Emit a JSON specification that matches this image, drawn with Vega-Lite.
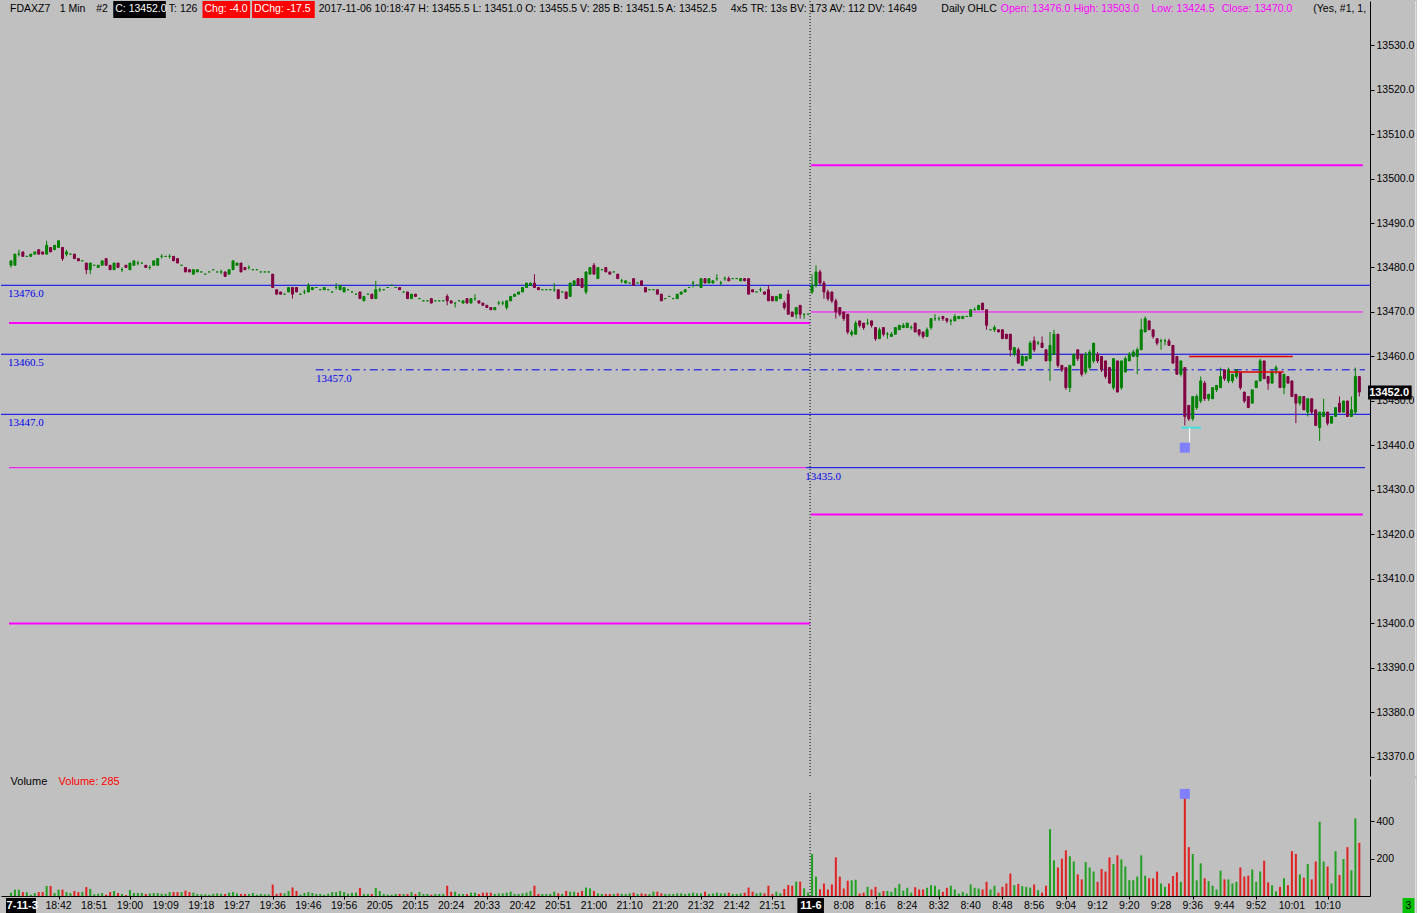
{
"$schema":"https://vega.github.io/schema/vega-lite/v6.json",
"padding":0,
"background":"#c0c0c0",
"spacing":3,
"bounds":"flush",
"config":{"view":{"stroke":null},"font":"Liberation Sans","axis":{"grid":false}},
"datasets":{"bars":[
{"i":0,"o":13480.5,"h":13481.5,"l":13480,"c":13481.5,"v":18},
{"i":1,"o":13480.5,"h":13483,"l":13480.5,"c":13483,"v":34},
{"i":2,"o":13483,"h":13484,"l":13482.5,"c":13483,"v":34},
{"i":3,"o":13483.5,"h":13483.5,"l":13482.5,"c":13482.5,"v":21},
{"i":4,"o":13482.5,"h":13482.5,"l":13482.5,"c":13482.5,"v":21},
{"i":5,"o":13482.5,"h":13483,"l":13482.5,"c":13483,"v":7},
{"i":6,"o":13483,"h":13483.5,"l":13483,"c":13483.5,"v":16},
{"i":7,"o":13484,"h":13484,"l":13483,"c":13483,"v":21},
{"i":8,"o":13483.5,"h":13483.5,"l":13483,"c":13483,"v":21},
{"i":9,"o":13483,"h":13486,"l":13483,"c":13485,"v":54},
{"i":10,"o":13484.5,"h":13484.5,"l":13483.5,"c":13483.5,"v":54},
{"i":11,"o":13484,"h":13485,"l":13484,"c":13485,"v":16},
{"i":12,"o":13484.5,"h":13486,"l":13484.5,"c":13486,"v":34},
{"i":13,"o":13484.5,"h":13484.5,"l":13481.5,"c":13482,"v":34},
{"i":14,"o":13483,"h":13484,"l":13482.5,"c":13483.5,"v":21},
{"i":15,"o":13483,"h":13483,"l":13483,"c":13483,"v":16},
{"i":16,"o":13483,"h":13483,"l":13482,"c":13482,"v":27},
{"i":17,"o":13482,"h":13482,"l":13481.5,"c":13481.5,"v":21},
{"i":18,"o":13481.5,"h":13481.5,"l":13481.5,"c":13481.5,"v":21},
{"i":19,"o":13481,"h":13481,"l":13478.5,"c":13479.5,"v":48},
{"i":20,"o":13479.5,"h":13481,"l":13478.5,"c":13481,"v":38},
{"i":21,"o":13480.5,"h":13480.5,"l":13480.5,"c":13480.5,"v":9},
{"i":22,"o":13480,"h":13480.5,"l":13480,"c":13480.5,"v":12},
{"i":23,"o":13480.5,"h":13481.5,"l":13480.5,"c":13481.5,"v":16},
{"i":24,"o":13482,"h":13482,"l":13480.5,"c":13480.5,"v":7},
{"i":25,"o":13480.5,"h":13480.5,"l":13479.5,"c":13479.5,"v":21},
{"i":26,"o":13479.5,"h":13481,"l":13479.5,"c":13481,"v":27},
{"i":27,"o":13481,"h":13481,"l":13480,"c":13480,"v":16},
{"i":28,"o":13479.5,"h":13480,"l":13479,"c":13479.5,"v":11},
{"i":29,"o":13480.5,"h":13480.5,"l":13480,"c":13480,"v":5},
{"i":30,"o":13479.5,"h":13481,"l":13479.5,"c":13481,"v":32},
{"i":31,"o":13480.5,"h":13481.5,"l":13480.5,"c":13481.5,"v":16},
{"i":32,"o":13481,"h":13481.5,"l":13480.5,"c":13481,"v":16},
{"i":33,"o":13481,"h":13481,"l":13481,"c":13481,"v":16},
{"i":34,"o":13480.5,"h":13480.5,"l":13480,"c":13480,"v":11},
{"i":35,"o":13480,"h":13480.5,"l":13479.5,"c":13480,"v":14},
{"i":36,"o":13480.5,"h":13481.5,"l":13480.5,"c":13481.5,"v":16},
{"i":37,"o":13480.5,"h":13482,"l":13480.5,"c":13482,"v":16},
{"i":38,"o":13482.5,"h":13483,"l":13482,"c":13482.5,"v":12},
{"i":39,"o":13482.5,"h":13482.5,"l":13482.5,"c":13482.5,"v":12},
{"i":40,"o":13482.5,"h":13483,"l":13482,"c":13482.5,"v":21},
{"i":41,"o":13482.5,"h":13482.5,"l":13481.5,"c":13481.5,"v":21},
{"i":42,"o":13482,"h":13482,"l":13481,"c":13481,"v":21},
{"i":43,"o":13480.5,"h":13480.5,"l":13480.5,"c":13480.5,"v":21},
{"i":44,"o":13480,"h":13480,"l":13479,"c":13479,"v":29},
{"i":45,"o":13479.5,"h":13479.5,"l":13479,"c":13479,"v":21},
{"i":46,"o":13478.5,"h":13479.5,"l":13478.5,"c":13479.5,"v":18},
{"i":47,"o":13479,"h":13479.5,"l":13479,"c":13479.5,"v":11},
{"i":48,"o":13479,"h":13479,"l":13479,"c":13479,"v":9},
{"i":49,"o":13478.5,"h":13478.5,"l":13478.5,"c":13478.5,"v":9},
{"i":50,"o":13479,"h":13479,"l":13479,"c":13479,"v":7},
{"i":51,"o":13479.5,"h":13479.5,"l":13479.5,"c":13479.5,"v":11},
{"i":52,"o":13479,"h":13479,"l":13479,"c":13479,"v":14},
{"i":53,"o":13479,"h":13479.5,"l":13478.5,"c":13479,"v":12},
{"i":54,"o":13479,"h":13479,"l":13478,"c":13478,"v":11},
{"i":55,"o":13478.5,"h":13479.5,"l":13478.5,"c":13479.5,"v":18},
{"i":56,"o":13479.5,"h":13481.5,"l":13479.5,"c":13481.5,"v":21},
{"i":57,"o":13480.5,"h":13481,"l":13480.5,"c":13481,"v":14},
{"i":58,"o":13481,"h":13481,"l":13479,"c":13479,"v":11},
{"i":59,"o":13480,"h":13480,"l":13479.5,"c":13479.5,"v":11},
{"i":60,"o":13480,"h":13480.5,"l":13479.5,"c":13480,"v":11},
{"i":61,"o":13479.5,"h":13479.5,"l":13479.5,"c":13479.5,"v":16},
{"i":62,"o":13479.5,"h":13479.5,"l":13479.5,"c":13479.5,"v":7},
{"i":63,"o":13479,"h":13479,"l":13479,"c":13479,"v":11},
{"i":64,"o":13479,"h":13479,"l":13479,"c":13479,"v":9},
{"i":65,"o":13479,"h":13479,"l":13479,"c":13479,"v":9},
{"i":66,"o":13478.5,"h":13478.5,"l":13475.5,"c":13475.5,"v":61},
{"i":67,"o":13475,"h":13475,"l":13474,"c":13474,"v":11},
{"i":68,"o":13474.5,"h":13474.5,"l":13474,"c":13474,"v":16},
{"i":69,"o":13474,"h":13474,"l":13474,"c":13474,"v":14},
{"i":70,"o":13474.5,"h":13475.5,"l":13474.5,"c":13475.5,"v":27},
{"i":71,"o":13475.5,"h":13475.5,"l":13473,"c":13474,"v":46},
{"i":72,"o":13475.5,"h":13475.5,"l":13474.5,"c":13474.5,"v":27},
{"i":73,"o":13474,"h":13474,"l":13474,"c":13474,"v":7},
{"i":74,"o":13474.5,"h":13475,"l":13474,"c":13474.5,"v":16},
{"i":75,"o":13474.5,"h":13476.5,"l":13474.5,"c":13476,"v":21},
{"i":76,"o":13475,"h":13475.5,"l":13475,"c":13475.5,"v":16},
{"i":77,"o":13475.5,"h":13475.5,"l":13475.5,"c":13475.5,"v":11},
{"i":78,"o":13475,"h":13475,"l":13475,"c":13475,"v":11},
{"i":79,"o":13475,"h":13475.5,"l":13475,"c":13475.5,"v":7},
{"i":80,"o":13475,"h":13475,"l":13475,"c":13475,"v":12},
{"i":81,"o":13474.5,"h":13474.5,"l":13474.5,"c":13474.5,"v":21},
{"i":82,"o":13475.5,"h":13476.5,"l":13475,"c":13475.5,"v":21},
{"i":83,"o":13475,"h":13476,"l":13475,"c":13476,"v":27},
{"i":84,"o":13474.5,"h":13475.5,"l":13474.5,"c":13475.5,"v":21},
{"i":85,"o":13475,"h":13475,"l":13475,"c":13475,"v":12},
{"i":86,"o":13474.5,"h":13474.5,"l":13474.5,"c":13474.5,"v":16},
{"i":87,"o":13474,"h":13474,"l":13474,"c":13474,"v":18},
{"i":88,"o":13474.5,"h":13474.5,"l":13473,"c":13473,"v":43},
{"i":89,"o":13472.5,"h":13473.5,"l":13472.5,"c":13473.5,"v":11},
{"i":90,"o":13474,"h":13474,"l":13474,"c":13474,"v":11},
{"i":91,"o":13474,"h":13474,"l":13473,"c":13473,"v":11},
{"i":92,"o":13473,"h":13477,"l":13473,"c":13475,"v":43},
{"i":93,"o":13475,"h":13475.5,"l":13474.5,"c":13475,"v":27},
{"i":94,"o":13475,"h":13475,"l":13475,"c":13475,"v":11},
{"i":95,"o":13475.5,"h":13475.5,"l":13475.5,"c":13475.5,"v":7},
{"i":96,"o":13476,"h":13476,"l":13476,"c":13476,"v":7},
{"i":97,"o":13475.5,"h":13475.5,"l":13475.5,"c":13475.5,"v":11},
{"i":98,"o":13475.5,"h":13475.5,"l":13475,"c":13475,"v":11},
{"i":99,"o":13474.5,"h":13474.5,"l":13474.5,"c":13474.5,"v":11},
{"i":100,"o":13474.5,"h":13474.5,"l":13473,"c":13473,"v":11},
{"i":101,"o":13473,"h":13474,"l":13473,"c":13474,"v":21},
{"i":102,"o":13474,"h":13474,"l":13473.5,"c":13473.5,"v":11},
{"i":103,"o":13473,"h":13473,"l":13473,"c":13473,"v":21},
{"i":104,"o":13472.5,"h":13472.5,"l":13472.5,"c":13472.5,"v":11},
{"i":105,"o":13472.5,"h":13472.5,"l":13472.5,"c":13472.5,"v":11},
{"i":106,"o":13473,"h":13473,"l":13472,"c":13472,"v":7},
{"i":107,"o":13472.5,"h":13472.5,"l":13472.5,"c":13472.5,"v":11},
{"i":108,"o":13472.5,"h":13472.5,"l":13472.5,"c":13472.5,"v":11},
{"i":109,"o":13472.5,"h":13472.5,"l":13472.5,"c":13472.5,"v":11},
{"i":110,"o":13473.5,"h":13474,"l":13471.5,"c":13472.5,"v":55},
{"i":111,"o":13472.5,"h":13472.5,"l":13472,"c":13472,"v":23},
{"i":112,"o":13472,"h":13472,"l":13471,"c":13472,"v":23},
{"i":113,"o":13472.5,"h":13472.5,"l":13472.5,"c":13472.5,"v":11},
{"i":114,"o":13472,"h":13472.5,"l":13472,"c":13472.5,"v":11},
{"i":115,"o":13473,"h":13473,"l":13472,"c":13472,"v":11},
{"i":116,"o":13472,"h":13473,"l":13472,"c":13473,"v":18},
{"i":117,"o":13473,"h":13474,"l":13472.5,"c":13473,"v":18},
{"i":118,"o":13472.5,"h":13472.5,"l":13472,"c":13472,"v":11},
{"i":119,"o":13472,"h":13472,"l":13471.5,"c":13471.5,"v":18},
{"i":120,"o":13471.5,"h":13471.5,"l":13471,"c":13471,"v":18},
{"i":121,"o":13471,"h":13471,"l":13470.5,"c":13470.5,"v":18},
{"i":122,"o":13470.5,"h":13471,"l":13470.5,"c":13471,"v":11},
{"i":123,"o":13472,"h":13472.5,"l":13471.5,"c":13472,"v":14},
{"i":124,"o":13472,"h":13472.5,"l":13471.5,"c":13472,"v":14},
{"i":125,"o":13471,"h":13472.5,"l":13470.5,"c":13472.5,"v":18},
{"i":126,"o":13472.5,"h":13473.5,"l":13472.5,"c":13473.5,"v":23},
{"i":127,"o":13473.5,"h":13474,"l":13473.5,"c":13474,"v":11},
{"i":128,"o":13474,"h":13474.5,"l":13474,"c":13474.5,"v":11},
{"i":129,"o":13474.5,"h":13475.5,"l":13474.5,"c":13475.5,"v":14},
{"i":130,"o":13475.5,"h":13476.5,"l":13475.5,"c":13476.5,"v":18},
{"i":131,"o":13476,"h":13476.5,"l":13476,"c":13476.5,"v":27},
{"i":132,"o":13476.5,"h":13478.5,"l":13475.5,"c":13475.5,"v":55},
{"i":133,"o":13475.5,"h":13475.5,"l":13475,"c":13475,"v":11},
{"i":134,"o":13475,"h":13475,"l":13475,"c":13475,"v":11},
{"i":135,"o":13475,"h":13475,"l":13475,"c":13475,"v":11},
{"i":136,"o":13475,"h":13475,"l":13475,"c":13475,"v":11},
{"i":137,"o":13475,"h":13476.5,"l":13474.5,"c":13475,"v":23},
{"i":138,"o":13475,"h":13475,"l":13473,"c":13473,"v":14},
{"i":139,"o":13474.5,"h":13474.5,"l":13474.5,"c":13474.5,"v":11},
{"i":140,"o":13474.5,"h":13474.5,"l":13473,"c":13473,"v":27},
{"i":141,"o":13473.5,"h":13476.5,"l":13473.5,"c":13476.5,"v":23},
{"i":142,"o":13476,"h":13477,"l":13476,"c":13477,"v":23},
{"i":143,"o":13477.5,"h":13477.5,"l":13476,"c":13476,"v":18},
{"i":144,"o":13477.5,"h":13477.5,"l":13475.5,"c":13475.5,"v":27},
{"i":145,"o":13474.5,"h":13479,"l":13474,"c":13479,"v":45},
{"i":146,"o":13478.5,"h":13480,"l":13478.5,"c":13480,"v":41},
{"i":147,"o":13480.5,"h":13481,"l":13478.5,"c":13478.5,"v":27},
{"i":148,"o":13477.5,"h":13480,"l":13477.5,"c":13480,"v":14},
{"i":149,"o":13479.5,"h":13479.5,"l":13479.5,"c":13479.5,"v":11},
{"i":150,"o":13480,"h":13480,"l":13479,"c":13479,"v":11},
{"i":151,"o":13479,"h":13479,"l":13478.5,"c":13478.5,"v":11},
{"i":152,"o":13479,"h":13479,"l":13479,"c":13479,"v":11},
{"i":153,"o":13478.5,"h":13478.5,"l":13477.5,"c":13477.5,"v":14},
{"i":154,"o":13477,"h":13477.5,"l":13476.5,"c":13477,"v":11},
{"i":155,"o":13476.5,"h":13477,"l":13476.5,"c":13477,"v":11},
{"i":156,"o":13476.5,"h":13476.5,"l":13476.5,"c":13476.5,"v":14},
{"i":157,"o":13477.5,"h":13477.5,"l":13476,"c":13476,"v":18},
{"i":158,"o":13476.5,"h":13476.5,"l":13476.5,"c":13476.5,"v":11},
{"i":159,"o":13477,"h":13477,"l":13476,"c":13476,"v":14},
{"i":160,"o":13475.5,"h":13475.5,"l":13474.5,"c":13474.5,"v":11},
{"i":161,"o":13475,"h":13475,"l":13475,"c":13475,"v":11},
{"i":162,"o":13475,"h":13475,"l":13475,"c":13475,"v":23},
{"i":163,"o":13475,"h":13475,"l":13474,"c":13474,"v":23},
{"i":164,"o":13474,"h":13474,"l":13472.5,"c":13472.5,"v":14},
{"i":165,"o":13473,"h":13473,"l":13473,"c":13473,"v":11},
{"i":166,"o":13473.5,"h":13473.5,"l":13473.5,"c":13473.5,"v":11},
{"i":167,"o":13473,"h":13473,"l":13473,"c":13473,"v":11},
{"i":168,"o":13473,"h":13474,"l":13473,"c":13474,"v":14},
{"i":169,"o":13474,"h":13474.5,"l":13474,"c":13474.5,"v":14},
{"i":170,"o":13474.5,"h":13475,"l":13474.5,"c":13475,"v":11},
{"i":171,"o":13475.5,"h":13475.5,"l":13475.5,"c":13475.5,"v":14},
{"i":172,"o":13476.5,"h":13477,"l":13475.5,"c":13476.5,"v":18},
{"i":173,"o":13476,"h":13476,"l":13476,"c":13476,"v":14},
{"i":174,"o":13475.5,"h":13477.5,"l":13475.5,"c":13477.5,"v":14},
{"i":175,"o":13477.5,"h":13477.5,"l":13476.5,"c":13476.5,"v":23},
{"i":176,"o":13476.5,"h":13477.5,"l":13476.5,"c":13477.5,"v":11},
{"i":177,"o":13476.5,"h":13477,"l":13476.5,"c":13477,"v":14},
{"i":178,"o":13477.5,"h":13478.5,"l":13477,"c":13477.5,"v":18},
{"i":179,"o":13476.5,"h":13477,"l":13476,"c":13476.5,"v":14},
{"i":180,"o":13477.5,"h":13478,"l":13477,"c":13477.5,"v":14},
{"i":181,"o":13477.5,"h":13478,"l":13477,"c":13477,"v":18},
{"i":182,"o":13477.5,"h":13477.5,"l":13477.5,"c":13477.5,"v":11},
{"i":183,"o":13477.5,"h":13477.5,"l":13477.5,"c":13477.5,"v":11},
{"i":184,"o":13477,"h":13477.5,"l":13477,"c":13477.5,"v":14},
{"i":185,"o":13477.5,"h":13477.5,"l":13477,"c":13477,"v":18},
{"i":186,"o":13477.5,"h":13477.5,"l":13474,"c":13474,"v":45},
{"i":187,"o":13475,"h":13475,"l":13474.5,"c":13474.5,"v":23},
{"i":188,"o":13474.5,"h":13474.5,"l":13474.5,"c":13474.5,"v":14},
{"i":189,"o":13475,"h":13475.5,"l":13474.5,"c":13475,"v":18},
{"i":190,"o":13474.5,"h":13474.5,"l":13474,"c":13474,"v":14},
{"i":191,"o":13475,"h":13476,"l":13472.5,"c":13472.5,"v":55},
{"i":192,"o":13473.5,"h":13473.5,"l":13472.5,"c":13472.5,"v":11},
{"i":193,"o":13472.5,"h":13473.5,"l":13472.5,"c":13473.5,"v":23},
{"i":194,"o":13473,"h":13474,"l":13473,"c":13474,"v":14},
{"i":195,"o":13472,"h":13472.5,"l":13470.5,"c":13471,"v":38},
{"i":196,"o":13474,"h":13475,"l":13469.5,"c":13469.5,"v":59},
{"i":197,"o":13470,"h":13470,"l":13469,"c":13469,"v":55},
{"i":198,"o":13469.5,"h":13471,"l":13468.5,"c":13471,"v":77},
{"i":199,"o":13471.5,"h":13471.5,"l":13468.5,"c":13469.5,"v":77},
{"i":200,"o":13469.5,"h":13469.5,"l":13468.5,"c":13469.5,"v":41},
{"i":201,"o":13469.5,"h":13469.5,"l":13469.5,"c":13469.5,"v":18},
{"i":202,"o":13474.5,"h":13478.5,"l":13474,"c":13476,"v":225},
{"i":203,"o":13476,"h":13480.5,"l":13475.5,"c":13479,"v":104},
{"i":204,"o":13479,"h":13479.5,"l":13476,"c":13476.5,"v":36},
{"i":205,"o":13476.5,"h":13477,"l":13473,"c":13474.5,"v":67},
{"i":206,"o":13474.5,"h":13475,"l":13472.5,"c":13473,"v":35},
{"i":207,"o":13474.5,"h":13474.5,"l":13472,"c":13472.5,"v":62},
{"i":208,"o":13472.5,"h":13473,"l":13468.5,"c":13470,"v":207},
{"i":209,"o":13471,"h":13471,"l":13469,"c":13469.5,"v":104},
{"i":210,"o":13470,"h":13470,"l":13468,"c":13468.5,"v":40},
{"i":211,"o":13469.5,"h":13469.5,"l":13465,"c":13465.5,"v":82},
{"i":212,"o":13465,"h":13466,"l":13464.5,"c":13465.5,"v":84},
{"i":213,"o":13465,"h":13468,"l":13465,"c":13467.5,"v":87},
{"i":214,"o":13468,"h":13468,"l":13466.5,"c":13467,"v":13},
{"i":215,"o":13467.5,"h":13467.5,"l":13466,"c":13466.5,"v":18},
{"i":216,"o":13467.5,"h":13468.5,"l":13467,"c":13467.5,"v":49},
{"i":217,"o":13468,"h":13468,"l":13466.5,"c":13467,"v":35},
{"i":218,"o":13466.5,"h":13466.5,"l":13463.5,"c":13464,"v":49},
{"i":219,"o":13464,"h":13466.5,"l":13464,"c":13466,"v":18},
{"i":220,"o":13466.5,"h":13466.5,"l":13464.5,"c":13465,"v":27},
{"i":221,"o":13465,"h":13465.5,"l":13464,"c":13465,"v":27},
{"i":222,"o":13464.5,"h":13465.5,"l":13464.5,"c":13465,"v":22},
{"i":223,"o":13465,"h":13466.5,"l":13465,"c":13466.5,"v":44},
{"i":224,"o":13466,"h":13467,"l":13466,"c":13467,"v":65},
{"i":225,"o":13466.5,"h":13467.5,"l":13466.5,"c":13467,"v":29},
{"i":226,"o":13466.5,"h":13467.5,"l":13466.5,"c":13467.5,"v":44},
{"i":227,"o":13466.5,"h":13467,"l":13466,"c":13466.5,"v":18},
{"i":228,"o":13467.5,"h":13467.5,"l":13465.5,"c":13465.5,"v":47},
{"i":229,"o":13466,"h":13466,"l":13464.5,"c":13465,"v":35},
{"i":230,"o":13465.5,"h":13465.5,"l":13464,"c":13464.5,"v":35},
{"i":231,"o":13464.5,"h":13466.5,"l":13464.5,"c":13466,"v":44},
{"i":232,"o":13466.5,"h":13468.5,"l":13466,"c":13468.5,"v":58},
{"i":233,"o":13468.5,"h":13469.5,"l":13468,"c":13468.5,"v":55},
{"i":234,"o":13468.5,"h":13469,"l":13468,"c":13468.5,"v":35},
{"i":235,"o":13469,"h":13469,"l":13468,"c":13468.5,"v":22},
{"i":236,"o":13468.5,"h":13468.5,"l":13467.5,"c":13468,"v":44},
{"i":237,"o":13468,"h":13468.5,"l":13467,"c":13468,"v":55},
{"i":238,"o":13468,"h":13469.5,"l":13468,"c":13469,"v":35},
{"i":239,"o":13468.5,"h":13469,"l":13468.5,"c":13469,"v":13},
{"i":240,"o":13468.5,"h":13469,"l":13468.5,"c":13469,"v":22},
{"i":241,"o":13469,"h":13469,"l":13469,"c":13469,"v":13},
{"i":242,"o":13469,"h":13470.5,"l":13469,"c":13470.5,"v":62},
{"i":243,"o":13470.5,"h":13471,"l":13470.5,"c":13470.5,"v":44},
{"i":244,"o":13470.5,"h":13471.5,"l":13470.5,"c":13471.5,"v":40},
{"i":245,"o":13472,"h":13472,"l":13470.5,"c":13470.5,"v":35},
{"i":246,"o":13470.5,"h":13470.5,"l":13466,"c":13467,"v":76},
{"i":247,"o":13466,"h":13466,"l":13466,"c":13466,"v":35},
{"i":248,"o":13466,"h":13467,"l":13465.5,"c":13466.5,"v":55},
{"i":249,"o":13466,"h":13466,"l":13465.5,"c":13465.5,"v":18},
{"i":250,"o":13466,"h":13466,"l":13464,"c":13464,"v":49},
{"i":251,"o":13465,"h":13465,"l":13464,"c":13464,"v":67},
{"i":252,"o":13465,"h":13465,"l":13460,"c":13461.5,"v":120},
{"i":253,"o":13460.5,"h":13462,"l":13460,"c":13462,"v":58},
{"i":254,"o":13461.5,"h":13462,"l":13458.5,"c":13458.5,"v":65},
{"i":255,"o":13458,"h":13460.5,"l":13458,"c":13460,"v":53},
{"i":256,"o":13459,"h":13460,"l":13459,"c":13460,"v":49},
{"i":257,"o":13459.5,"h":13463.5,"l":13459.5,"c":13463,"v":45},
{"i":258,"o":13463.5,"h":13464.5,"l":13461,"c":13461.5,"v":62},
{"i":259,"o":13463,"h":13463.5,"l":13462.5,"c":13463,"v":31},
{"i":260,"o":13463,"h":13464.5,"l":13462,"c":13462,"v":18},
{"i":261,"o":13461.5,"h":13461.5,"l":13459,"c":13459,"v":55},
{"i":262,"o":13459,"h":13465.5,"l":13454.5,"c":13462.5,"v":358},
{"i":263,"o":13460.5,"h":13466,"l":13460.5,"c":13465,"v":191},
{"i":264,"o":13465,"h":13465,"l":13457.5,"c":13458,"v":153},
{"i":265,"o":13458,"h":13458,"l":13456.5,"c":13457,"v":200},
{"i":266,"o":13457.5,"h":13457.5,"l":13452.5,"c":13453,"v":245},
{"i":267,"o":13453,"h":13458,"l":13452,"c":13458,"v":213},
{"i":268,"o":13458,"h":13460.5,"l":13458,"c":13460.5,"v":185},
{"i":269,"o":13461.5,"h":13461.5,"l":13459,"c":13459.5,"v":116},
{"i":270,"o":13460.5,"h":13460.5,"l":13455.5,"c":13456,"v":89},
{"i":271,"o":13456.5,"h":13461,"l":13456,"c":13460.5,"v":182},
{"i":272,"o":13457.5,"h":13461.5,"l":13457,"c":13461,"v":153},
{"i":273,"o":13459,"h":13463,"l":13458.5,"c":13463,"v":131},
{"i":274,"o":13460.5,"h":13461,"l":13458.5,"c":13459,"v":76},
{"i":275,"o":13460,"h":13460,"l":13456.5,"c":13457,"v":145},
{"i":276,"o":13459,"h":13459,"l":13455,"c":13455.5,"v":131},
{"i":277,"o":13457.5,"h":13457.5,"l":13454,"c":13454,"v":207},
{"i":278,"o":13453,"h":13459.5,"l":13452.5,"c":13459.5,"v":171},
{"i":279,"o":13459,"h":13459,"l":13452,"c":13452,"v":218},
{"i":280,"o":13453,"h":13459,"l":13452.5,"c":13459,"v":196},
{"i":281,"o":13456.5,"h":13460,"l":13456.5,"c":13459.5,"v":158},
{"i":282,"o":13459,"h":13461,"l":13459,"c":13460.5,"v":85},
{"i":283,"o":13460,"h":13461.5,"l":13460,"c":13461,"v":85},
{"i":284,"o":13460,"h":13462,"l":13456,"c":13461.5,"v":104},
{"i":285,"o":13461.5,"h":13468.5,"l":13461.5,"c":13466,"v":218},
{"i":286,"o":13465.5,"h":13469,"l":13465.5,"c":13468.5,"v":109},
{"i":287,"o":13468,"h":13468,"l":13466,"c":13466,"v":95},
{"i":288,"o":13466,"h":13466,"l":13464,"c":13464.5,"v":95},
{"i":289,"o":13464,"h":13464,"l":13462.5,"c":13463,"v":131},
{"i":290,"o":13463.5,"h":13464,"l":13461.5,"c":13463.5,"v":67},
{"i":291,"o":13463.5,"h":13464,"l":13462.5,"c":13463.5,"v":49},
{"i":292,"o":13463.5,"h":13464,"l":13462.5,"c":13462.5,"v":67},
{"i":293,"o":13462.5,"h":13462.5,"l":13458.5,"c":13458.5,"v":107},
{"i":294,"o":13460,"h":13460,"l":13456,"c":13456,"v":127},
{"i":295,"o":13456,"h":13459,"l":13455.5,"c":13459,"v":76},
{"i":296,"o":13457.5,"h":13457.5,"l":13444.5,"c":13446.5,"v":531},
{"i":297,"o":13449,"h":13449,"l":13445.5,"c":13446,"v":262},
{"i":298,"o":13446,"h":13451,"l":13445.5,"c":13451,"v":225},
{"i":299,"o":13448.5,"h":13451.5,"l":13448,"c":13451,"v":84},
{"i":300,"o":13450,"h":13455.5,"l":13449.5,"c":13454.5,"v":175},
{"i":301,"o":13454,"h":13454.5,"l":13450,"c":13450.5,"v":95},
{"i":302,"o":13450.5,"h":13451.5,"l":13450,"c":13451.5,"v":80},
{"i":303,"o":13450.5,"h":13453,"l":13450.5,"c":13453,"v":55},
{"i":304,"o":13452.5,"h":13453.5,"l":13452,"c":13453.5,"v":35},
{"i":305,"o":13453,"h":13457.5,"l":13453,"c":13455.5,"v":136},
{"i":306,"o":13457,"h":13457,"l":13454.5,"c":13455,"v":89},
{"i":307,"o":13454.5,"h":13457.5,"l":13454,"c":13457,"v":89},
{"i":308,"o":13454.5,"h":13456,"l":13454,"c":13456,"v":67},
{"i":309,"o":13455.5,"h":13457,"l":13455,"c":13457,"v":76},
{"i":310,"o":13456.5,"h":13456.5,"l":13452.5,"c":13453,"v":153},
{"i":311,"o":13452,"h":13452,"l":13449.5,"c":13450,"v":104},
{"i":312,"o":13451,"h":13451,"l":13448.5,"c":13448.5,"v":109},
{"i":313,"o":13449.5,"h":13452.5,"l":13449.5,"c":13452.5,"v":142},
{"i":314,"o":13453,"h":13454.5,"l":13453,"c":13454.5,"v":76},
{"i":315,"o":13454.5,"h":13459.5,"l":13454.5,"c":13459,"v":131},
{"i":316,"o":13459,"h":13459,"l":13455,"c":13455,"v":189},
{"i":317,"o":13455.5,"h":13455.5,"l":13452.5,"c":13454,"v":73},
{"i":318,"o":13454,"h":13457,"l":13454,"c":13456.5,"v":58},
{"i":319,"o":13457,"h":13458,"l":13456,"c":13457.5,"v":25},
{"i":320,"o":13456.5,"h":13456.5,"l":13453,"c":13453,"v":49},
{"i":321,"o":13453,"h":13456,"l":13451.5,"c":13456,"v":95},
{"i":322,"o":13455.5,"h":13455.5,"l":13454,"c":13454,"v":58},
{"i":323,"o":13454.5,"h":13454.5,"l":13451,"c":13451,"v":240},
{"i":324,"o":13451.5,"h":13451.5,"l":13445,"c":13449.5,"v":225},
{"i":325,"o":13449.5,"h":13451,"l":13449,"c":13451,"v":116},
{"i":326,"o":13451,"h":13451,"l":13448,"c":13448,"v":98},
{"i":327,"o":13447.5,"h":13450.5,"l":13446.5,"c":13450.5,"v":171},
{"i":328,"o":13450.5,"h":13450.5,"l":13447,"c":13447.5,"v":89},
{"i":329,"o":13448,"h":13448,"l":13444.5,"c":13444.5,"v":185},
{"i":330,"o":13444,"h":13447.5,"l":13441,"c":13447.5,"v":398},
{"i":331,"o":13446.5,"h":13450.5,"l":13446.5,"c":13447.5,"v":185},
{"i":332,"o":13447.5,"h":13447.5,"l":13444.5,"c":13445,"v":158},
{"i":333,"o":13445,"h":13446.5,"l":13445,"c":13446.5,"v":67},
{"i":334,"o":13446.5,"h":13448.5,"l":13446.5,"c":13448.5,"v":240},
{"i":335,"o":13449.5,"h":13451,"l":13447.5,"c":13447.5,"v":113},
{"i":336,"o":13447.5,"h":13450,"l":13447.5,"c":13450,"v":198},
{"i":337,"o":13450,"h":13450,"l":13446.5,"c":13446.5,"v":262},
{"i":338,"o":13446.5,"h":13451,"l":13446.5,"c":13448,"v":138},
{"i":339,"o":13447.5,"h":13457.5,"l":13447,"c":13455.5,"v":416},
{"i":340,"o":13455.5,"h":13455.5,"l":13451,"c":13452,"v":285}
],
"ticks":[{"i":12,"t":"18:42"},{"i":21,"t":"18:51"},{"i":30,"t":"19:00"},{"i":39,"t":"19:09"},{"i":48,"t":"19:18"},{"i":57,"t":"19:27"},{"i":66,"t":"19:36"},{"i":75,"t":"19:46"},{"i":84,"t":"19:56"},{"i":93,"t":"20:05"},{"i":102,"t":"20:15"},{"i":111,"t":"20:24"},{"i":120,"t":"20:33"},{"i":129,"t":"20:42"},{"i":138,"t":"20:51"},{"i":147,"t":"21:00"},{"i":156,"t":"21:10"},{"i":165,"t":"21:20"},{"i":174,"t":"21:32"},{"i":183,"t":"21:42"},{"i":192,"t":"21:51"},{"i":210,"t":"8:08"},{"i":218,"t":"8:16"},{"i":226,"t":"8:24"},{"i":234,"t":"8:32"},{"i":242,"t":"8:40"},{"i":250,"t":"8:48"},{"i":258,"t":"8:56"},{"i":266,"t":"9:04"},{"i":274,"t":"9:12"},{"i":282,"t":"9:20"},{"i":290,"t":"9:28"},{"i":298,"t":"9:36"},{"i":306,"t":"9:44"},{"i":314,"t":"9:52"},{"i":323,"t":"10:01"},{"i":332,"t":"10:10"}]
},
"vconcat":[
{"width":1369,"height":775,
"layer":[
{"data":{"values":[{"p":13476},{"p":13460.5},{"p":13447}]},
 "mark":{"type":"rule","color":"#0000ee","strokeWidth":1},
 "encoding":{"y":{"field":"p","type":"quantitative","scale":{"domain":[13365.7,13539.9],"nice":false,"zero":false},
   "title":null,
   "axis":{"orient":"right","values":[13370,13380,13390,13400,13410,13420,13430,13440,13450,13460,13470,13480,13490,13500,13510,13520,13530],"format":".1f","tickSize":4,"tickColor":"black","domainColor":"black","labelColor":"black","labelFont":"Liberation Sans","labelFontSize":10.5,"labelPadding":2,"grid":false,"labelFlush":false,"labelOverlap":false,"title":null}}}},
{"data":{"values":[{}]},"mark":{"type":"rule","color":"#0000ee","strokeWidth":1},
 "encoding":{"x":{"datum":200.5,"scale":{"domain":[-1.25,341.43],"nice":false,"zero":false},"axis":null},"x2":{"datum":341.43},"y":{"datum":13435}}},
{"data":{"values":[{}]},"mark":{"type":"rule","color":"#0000ee","strokeWidth":1,"strokeDash":[8,4,2,4]},
 "encoding":{"x":{"datum":76.85,"axis":null},"x2":{"datum":341.43},"y":{"datum":13457}}},
{"data":{"values":[{}]},"mark":{"type":"rule","color":"#ff00ff","strokeWidth":2},
 "encoding":{"x":{"datum":-0.5,"axis":null},"x2":{"datum":201.5},"y":{"datum":13467.5}}},
{"data":{"values":[{}]},"mark":{"type":"rule","color":"#ff00ff","strokeWidth":2},
 "encoding":{"x":{"datum":-0.5,"axis":null},"x2":{"datum":201.5},"y":{"datum":13400}}},
{"data":{"values":[{}]},"mark":{"type":"rule","color":"#ff00ff","strokeWidth":1},
 "encoding":{"x":{"datum":-0.5,"axis":null},"x2":{"datum":200.5},"y":{"datum":13435}}},
{"data":{"values":[{}]},"mark":{"type":"rule","color":"#ff00ff","strokeWidth":2},
 "encoding":{"x":{"datum":201.75,"axis":null},"x2":{"datum":340.9},"y":{"datum":13503}}},
{"data":{"values":[{}]},"mark":{"type":"rule","color":"#ff00ff","strokeWidth":2},
 "encoding":{"x":{"datum":201.75,"axis":null},"x2":{"datum":340.9},"y":{"datum":13424.5}}},
{"data":{"values":[{}]},"mark":{"type":"rule","color":"#ff00ff","strokeWidth":1},
 "encoding":{"x":{"datum":201.75,"axis":null},"x2":{"datum":340.9},"y":{"datum":13470}}},
{"data":{"values":[{}]},"mark":{"type":"rule","color":"#000000","strokeWidth":1,"strokeDash":[1,2]},
 "encoding":{"x":{"datum":201.5,"axis":null}}},
{"data":{"values":[{}]},"mark":{"type":"rule","color":"#e6e6e6","strokeWidth":1},
 "encoding":{"x":{"datum":354.2,"axis":null}}},
{"data":{"name":"bars"},"mark":{"type":"rule","strokeWidth":1},
 "encoding":{"x":{"field":"i","type":"quantitative","axis":null,"title":null},"y":{"field":"l","type":"quantitative","title":null},"y2":{"field":"h"},
  "color":{"condition":{"test":"datum.c >= datum.o","value":"#008000"},"value":"#800040"}}},
{"data":{"name":"bars"},"mark":{"type":"bar","orient":"vertical","width":2,"strokeWidth":1},
 "encoding":{"x":{"field":"i","type":"quantitative","axis":null,"title":null},"y":{"field":"o","type":"quantitative","title":null},"y2":{"field":"c"},
  "fill":{"condition":{"test":"datum.c >= datum.o","value":"#008000"},"value":"#800040"},
  "stroke":{"condition":{"test":"datum.c >= datum.o","value":"#008000"},"value":"#800040"}}},
{"data":{"values":[{}]},"mark":{"type":"rule","color":"#e00000","strokeWidth":1.5},
 "encoding":{"x":{"datum":297.1,"axis":null},"x2":{"datum":323.2},"y":{"datum":13460}}},
{"data":{"values":[{}]},"mark":{"type":"rule","color":"#e00000","strokeWidth":1.5},
 "encoding":{"x":{"datum":307.1,"axis":null},"x2":{"datum":320.9},"y":{"datum":13456.5}}},
{"data":{"values":[{}]},"mark":{"type":"rule","color":"#40e0e0","strokeWidth":2},
 "encoding":{"x":{"datum":295.1,"axis":null},"x2":{"datum":300.1},"y":{"datum":13444}}},
{"data":{"values":[{}]},"mark":{"type":"rule","color":"#ffffff","strokeWidth":1},
 "encoding":{"x":{"datum":297.2,"axis":null},"y":{"datum":13444},"y2":{"datum":13440.7}}},
{"data":{"values":[{}]},"mark":{"type":"point","shape":"square","filled":true,"size":100,"color":"#8080ff","opacity":1},
 "encoding":{"x":{"datum":296,"axis":null},"y":{"datum":13439.5}}},
{"data":{"values":[{"p":13476,"t":"13476.0"},{"p":13460.5,"t":"13460.5"},{"p":13447,"t":"13447.0"}]},
 "mark":{"type":"text","align":"left","baseline":"top","dy":3,"color":"#0000ee","font":"Liberation Serif","fontSize":11},
 "encoding":{"x":{"datum":-0.75,"axis":null},"y":{"field":"p","type":"quantitative","title":null},"text":{"field":"t"}}},
{"data":{"values":[{}]},"mark":{"type":"text","align":"left","baseline":"top","dy":3,"color":"#0000ee","font":"Liberation Serif","fontSize":11},
 "encoding":{"x":{"datum":76.9,"axis":null},"y":{"datum":13457},"text":{"value":"13457.0"}}},
{"data":{"values":[{}]},"mark":{"type":"text","align":"left","baseline":"top","dy":3,"color":"#0000ee","font":"Liberation Serif","fontSize":11},
 "encoding":{"x":{"datum":200.3,"axis":null},"y":{"datum":13435},"text":{"value":"13435.0"}}},
{"data":{"values":[{}]},"mark":{"type":"rect","color":"#000000"},
 "encoding":{"x":{"datum":25.8,"axis":null},"x2":{"datum":39.05},"y":{"datum":13539.9},"y2":{"datum":13536.1}}},
{"data":{"values":[{}]},"mark":{"type":"rect","color":"#ff0000"},
 "encoding":{"x":{"datum":48.3,"axis":null},"x2":{"datum":60.3},"y":{"datum":13539.9},"y2":{"datum":13536.1}}},
{"data":{"values":[{}]},"mark":{"type":"rect","color":"#ff0000"},
 "encoding":{"x":{"datum":60.8,"axis":null},"x2":{"datum":76.6},"y":{"datum":13539.9},"y2":{"datum":13536.1}}},
{"data":{"values":[{"x":-0.25,"t":"FDAXZ7"},{"x":12.3,"t":"1 Min"},{"x":21.5,"t":"#2"},{"x":39.8,"t":"T: 126"},{"x":77.6,"t":"2017-11-06 10:18:47 H: 13455.5 L: 13451.0 O: 13455.5 V: 285 B: 13451.5 A: 13452.5"},{"x":181.5,"t":"4x5 TR: 13s BV: 173 AV: 112 DV: 14649"},{"x":234.6,"t":"Daily OHLC"},{"x":328.4,"t":"(Yes, #1, 1,"}]},
 "mark":{"type":"text","align":"left","baseline":"middle","color":"#000000","font":"Liberation Sans","fontSize":10.5},
 "encoding":{"x":{"field":"x","type":"quantitative","axis":null,"title":null},"y":{"datum":13538.1},"text":{"field":"t"}}},
{"data":{"values":[{"x":26.3,"t":"C: 13452.0"},{"x":48.8,"t":"Chg: -4.0"},{"x":61.3,"t":"DChg: -17.5"}]},
 "mark":{"type":"text","align":"left","baseline":"middle","color":"#ffffff","font":"Liberation Sans","fontSize":10.5},
 "encoding":{"x":{"field":"x","type":"quantitative","axis":null,"title":null},"y":{"datum":13538.1},"text":{"field":"t"}}},
{"data":{"values":[{"x":249.6,"t":"Open: 13476.0"},{"x":268.0,"t":"High: 13503.0"},{"x":287.6,"t":"Low: 13424.5"},{"x":305.3,"t":"Close: 13470.0"}]},
 "mark":{"type":"text","align":"left","baseline":"middle","color":"#ff00ff","font":"Liberation Sans","fontSize":10.5},
 "encoding":{"x":{"field":"x","type":"quantitative","axis":null,"title":null},"y":{"datum":13538.1},"text":{"field":"t"}}},
{"data":{"values":[{}]},"mark":{"type":"rect","color":"#000000"},
 "encoding":{"x":{"datum":342.2,"axis":null},"x2":{"datum":353.2},"y":{"datum":13453.5},"y2":{"datum":13450.3}}},
{"data":{"values":[{}]},"mark":{"type":"text","align":"left","baseline":"middle","color":"#ffffff","font":"Liberation Sans","fontSize":11,"fontWeight":"bold"},
 "encoding":{"x":{"datum":342.5,"axis":null},"y":{"datum":13451.9},"text":{"value":"13452.0"}}}
]},
{"width":1369,"height":117,
"layer":[
{"data":{"name":"bars"},"mark":{"type":"bar","orient":"vertical","width":2},
 "encoding":{"x":{"field":"i","type":"quantitative","scale":{"domain":[-1.25,341.43],"nice":false,"zero":false},"title":null,
   "axis":{"orient":"bottom","title":null,"values":[12,21,30,39,48,57,66,75,84,93,102,111,120,129,138,147,156,165,174,183,192,210,218,226,234,242,250,258,266,274,282,290,298,306,314,323,332],
   "labels":false,"tickSize":3,"tickColor":"black","domainColor":"black","grid":false}},
  "y":{"field":"v","type":"quantitative","scale":{"domain":[0,627],"nice":false,"zero":true},"title":null,
   "axis":{"orient":"right","title":null,"values":[200,400],"format":"d","tickSize":4,"tickColor":"black","domainColor":"black","labelColor":"black","labelFont":"Liberation Sans","labelFontSize":10.5,"labelPadding":2,"grid":false}},
  "color":{"condition":{"test":"datum.c >= datum.o","value":"#22a022"},"value":"#e02222"}}},
{"data":{"name":"ticks"},"mark":{"type":"text","align":"center","baseline":"middle","color":"#000000","font":"Liberation Sans","fontSize":10.5},
 "encoding":{"x":{"field":"i","type":"quantitative","title":null},"y":{"datum":-56},"text":{"field":"t"}}},
{"data":{"values":[{}]},"mark":{"type":"rule","color":"#000000","strokeWidth":1,"strokeDash":[1,2]},
 "encoding":{"x":{"datum":201.5},"y":{"datum":0},"y2":{"datum":555}}},
{"data":{"values":[{}]},"mark":{"type":"rule","color":"#e6e6e6","strokeWidth":1},
 "encoding":{"x":{"datum":354.2},"y":{"datum":-97},"y2":{"datum":627}}},
{"data":{"values":[{}]},"mark":{"type":"point","shape":"square","filled":true,"size":100,"color":"#8080ff","opacity":1},
 "encoding":{"x":{"datum":296},"y":{"datum":547}}},
{"data":{"values":[{}]},"mark":{"type":"text","align":"left","baseline":"middle","color":"#000000","font":"Liberation Sans","fontSize":11},
 "encoding":{"x":{"datum":-0.1},"y":{"datum":611},"text":{"value":"Volume"}}},
{"data":{"values":[{}]},"mark":{"type":"text","align":"left","baseline":"middle","color":"#ff0000","font":"Liberation Sans","fontSize":11},
 "encoding":{"x":{"datum":12.0},"y":{"datum":611},"text":{"value":"Volume: 285"}}},
{"data":{"values":[{}]},"mark":{"type":"rect","color":"#000000"},
 "encoding":{"x":{"datum":-1.25},"x2":{"datum":6.3},"y":{"datum":-11},"y2":{"datum":-97}}},
{"data":{"values":[{}]},"mark":{"type":"rect","color":"#000000"},
 "encoding":{"x":{"datum":198.3},"x2":{"datum":205.0},"y":{"datum":-11},"y2":{"datum":-97}}},
{"data":{"values":[{}]},"mark":{"type":"rect","color":"#00c000"},
 "encoding":{"x":{"datum":350.9},"x2":{"datum":353.9},"y":{"datum":-11},"y2":{"datum":-97}}},
{"data":{"values":[{}]},"mark":{"type":"text","align":"left","baseline":"middle","color":"#ffffff","font":"Liberation Sans","fontSize":11,"fontWeight":"bold"},
 "encoding":{"x":{"datum":-1.1},"y":{"datum":-56},"text":{"value":"7-11-3"}}},
{"data":{"values":[{}]},"mark":{"type":"text","align":"center","baseline":"middle","color":"#ffffff","font":"Liberation Sans","fontSize":11,"fontWeight":"bold"},
 "encoding":{"x":{"datum":201.7},"y":{"datum":-56},"text":{"value":"11-6"}}},
{"data":{"values":[{}]},"mark":{"type":"text","align":"center","baseline":"middle","color":"#000000","font":"Liberation Sans","fontSize":10.5},
 "encoding":{"x":{"datum":352.4},"y":{"datum":-56},"text":{"value":"3"}}}
]}
]
}
